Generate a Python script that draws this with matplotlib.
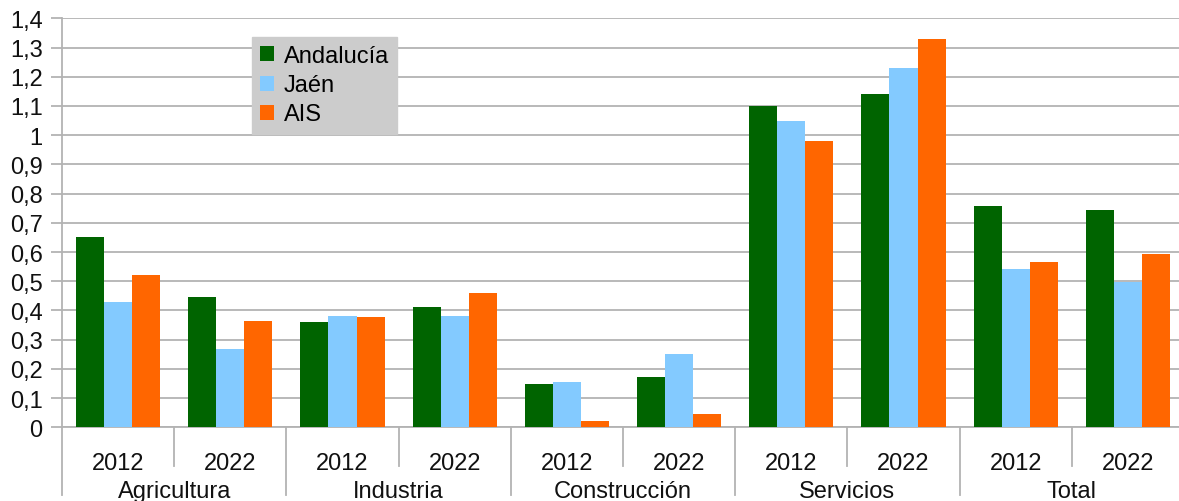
import matplotlib.pyplot as plt
from matplotlib.ticker import FuncFormatter
from matplotlib.transforms import blended_transform_factory

plt.rcParams['font.family'] = ['Liberation Sans', 'DejaVu Sans']

sectores = ['Agricultura', 'Industria', 'Construcción', 'Servicios', 'Total']
anios = ['2012', '2022']

andalucia = [0.65, 0.446, 0.36, 0.412, 0.148, 0.172, 1.10, 1.141, 0.758, 0.744]
jaen = [0.429, 0.268, 0.381, 0.381, 0.155, 0.251, 1.049, 1.23, 0.542, 0.499]
ais = [0.521, 0.364, 0.378, 0.46, 0.022, 0.046, 0.98, 1.33, 0.566, 0.593]

series = [('Andalucía', andalucia, '#006400'),
          ('Jaén', jaen, '#83caff'),
          ('AIS', ais, '#ff6600')]

W, H = 1179, 502
fig = plt.figure(figsize=(W / 100, H / 100), dpi=100)
ax = fig.add_axes([62 / W, (H - 428.3) / H, 1122 / W, 409 / H])

n = len(andalucia)
centros = [i + 0.5 for i in range(n)]
ancho = 0.25
for k, (nombre, valores, color) in enumerate(series):
    xs = [c + (k - 1) * ancho for c in centros]
    ax.bar(xs, valores, width=ancho, color=color, label=nombre, zorder=3)

ax.set_xlim(0, n)
ax.set_ylim(0, 1.4)
ax.set_yticks([i / 10 for i in range(15)])
ax.yaxis.set_major_formatter(FuncFormatter(lambda v, p: '{:g}'.format(round(v, 1)).replace('.', ',')))
ax.grid(axis='y', color='#b3b3b3', linewidth=1.3, zorder=0)
ax.set_axisbelow(True)

for s in ['top', 'right']:
    ax.spines[s].set_visible(False)
for s in ['left', 'bottom']:
    ax.spines[s].set_color('#b3b3b3')
    ax.spines[s].set_linewidth(1.3)

ax.tick_params(axis='y', length=8, width=1.3, color='#b3b3b3', pad=6, labelsize=17, labelcolor='#111111')
ax.set_xticks(centros)
ax.set_xticklabels(anios * len(sectores))
ax.tick_params(axis='x', length=0, pad=18, labelsize=17, labelcolor='#111111')

# separadores y etiquetas de sector
tr = blended_transform_factory(ax.transData, ax.transAxes)
for i in range(n + 1):
    if i % 2 == 0:
        ax.plot([i, i], [0, -0.166], transform=tr, color='#b3b3b3', lw=1.3, clip_on=False)
    else:
        ax.plot([i, i], [0, -0.095], transform=tr, color='#b3b3b3', lw=1.3, clip_on=False)
for j, sec in enumerate(sectores):
    ax.text(2 * j + 1, -0.155, sec, transform=tr, ha='center', va='center',
            fontsize=17, color='#111111')

leg = fig.legend(loc='upper left', bbox_to_anchor=(252 / W, 1 - 38 / H),
                 frameon=True, fancybox=False, fontsize=17,
                 handlelength=0.6, handleheight=0.6, handletextpad=0.4,
                 labelspacing=0.3, borderpad=0.35, borderaxespad=0)
leg.get_frame().set_facecolor('#cccccc')
leg.get_frame().set_edgecolor('#cccccc')
leg.get_frame().set_alpha(1)

fig.savefig('out.png', dpi=100)
